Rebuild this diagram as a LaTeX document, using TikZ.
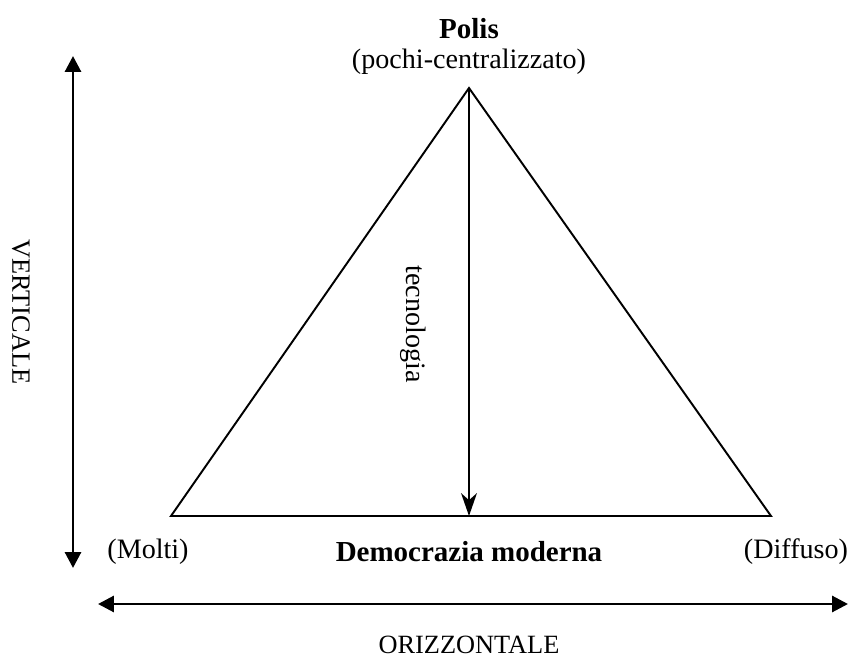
\documentclass[tikz,border=0pt]{standalone}
\usepackage{fontspec}
\setmainfont{Liberation Serif}
\usetikzlibrary{arrows.meta}
\tikzset{axisarrow/.style={line width=1.7pt,{Triangle[length=9pt,width=9pt]}-{Triangle[length=9pt,width=9pt]}},
lbl/.style={font=\fontsize{16}{19}\selectfont,inner sep=0pt},
caplbl/.style={font=\fontsize{15}{18}\selectfont,inner sep=0pt},
boldlbl/.style={font=\fontsize{16.5}{19}\selectfont\bfseries,inner sep=0pt}}
\begin{document}
\begin{tikzpicture}[x=0.02cm,y=-0.02cm]
\useasboundingbox (0,0) rectangle (850,660);
\coordinate (apex) at (469,88);
\coordinate (bl) at (171,516);
\coordinate (br) at (771,516);
\coordinate (bm) at (469,516);
\coordinate (vtop) at (73,56);
\coordinate (vbot) at (73,568);
\coordinate (hl) at (98,604);
\coordinate (hr) at (848,604);
\draw[line width=1.1pt,line join=miter] (apex) -- (bl) -- (br) -- cycle;
\draw[line width=1.2pt,-{Stealth[length=13pt,width=9pt,inset=4pt]}] (apex) -- (bm);
\draw[axisarrow] (vtop) -- (vbot);
\draw[axisarrow] (hl) -- (hr);
\node[boldlbl] (polis) at (469,29) {Polis};
\node[lbl] (pochi) at (469,62) {(pochi-centralizzato)};
\node[lbl,rotate=-90] (tecno) at (413,324) {tecnologia};
\node[caplbl,rotate=-90] (vert) at (21,312) {VERTICALE};
\node[lbl] (molti) at (148,552) {(Molti)};
\node[boldlbl] (demo) at (469,552) {Democrazia moderna};
\node[lbl] (diff) at (796,552) {(Diffuso)};
\node[caplbl] (oriz) at (469,645) {ORIZZONTALE};
\end{tikzpicture}
\end{document}
